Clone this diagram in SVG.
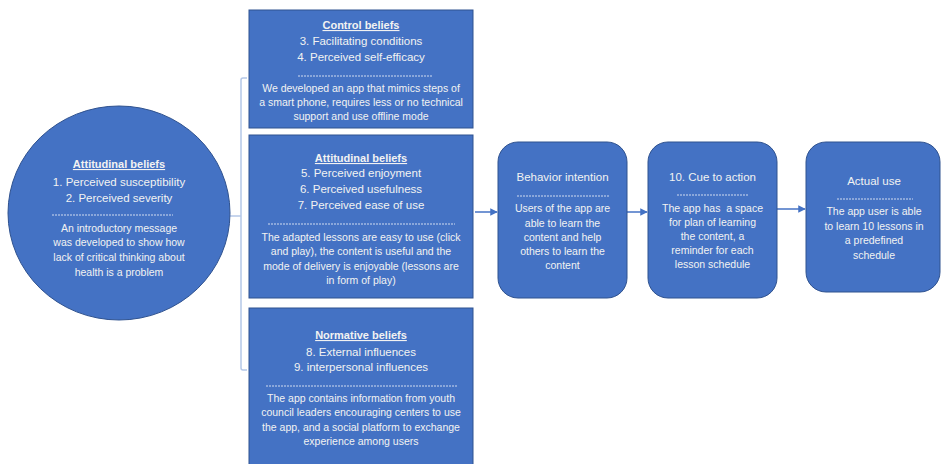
<svg xmlns="http://www.w3.org/2000/svg" width="941" height="464" viewBox="0 0 941 464">
<defs>
<style>
.shape{fill:#4472C4;stroke:#2F528F;stroke-width:1}
.t{font-family:"Liberation Sans",Arial,sans-serif;fill:#F2F2F2;text-anchor:middle}
.h{font-size:11px;font-weight:bold;text-decoration:underline}
.i{font-size:11.5px}
.b{font-size:10.5px}
.sep{stroke:#D0DBF0;stroke-width:1;stroke-dasharray:2 1}
.conn{stroke:#4472C4;stroke-width:1.5;fill:none}
.brk{stroke:#B4C7E7;stroke-width:1.5;fill:none}
</style>
<marker id="ah" viewBox="0 0 10 10" refX="9" refY="5" markerWidth="5" markerHeight="5" orient="auto" markerUnits="strokeWidth">
<path d="M0,0 L10,5 L0,10 Z" fill="#4472C4"/>
</marker>
</defs>
<rect width="941" height="464" fill="#FFFFFF"/>
<g id="connectors">
<path class="brk" d="M247,78 H243 Q241,78 241,80 V368 Q241,370 243,370 H247"/>
<path class="brk" d="M229,216 H241"/>
<path class="conn" d="M475,212 H497" marker-end="url(#ah)"/>
<path class="conn" d="M627,212 H647" marker-end="url(#ah)"/>
<path class="conn" d="M777,209 H805" marker-end="url(#ah)"/>
</g>
<g id="circle-attitudinal">
<ellipse class="shape" cx="119" cy="213" rx="111" ry="107"/>
<text class="t h" x="119" y="168">Attitudinal beliefs</text>
<text class="t i" x="119" y="186">1. Perceived susceptibility</text>
<text class="t i" x="119" y="202">2. Perceived severity</text>
<line class="sep" x1="52" y1="215" x2="173" y2="215"/>
<text class="t b" x="119" y="232">An introductory message</text>
<text class="t b" x="119" y="246">was developed to show how</text>
<text class="t b" x="119" y="261">lack of critical thinking about</text>
<text class="t b" x="119" y="276">health is a problem</text>
</g>
<g id="box-control">
<rect class="shape" x="249" y="10" width="224" height="118"/>
<text class="t h" x="361" y="29">Control beliefs</text>
<text class="t i" x="361" y="45">3. Facilitating conditions</text>
<text class="t i" x="361" y="61">4. Perceived self-efficacy</text>
<line class="sep" x1="298" y1="76" x2="433" y2="76"/>
<text class="t b" x="361" y="92">We developed an app that mimics steps of</text>
<text class="t b" x="361" y="106">a smart phone, requires less or no technical</text>
<text class="t b" x="361" y="120">support and use offline mode</text>
</g>
<g id="box-attitudinal">
<rect class="shape" x="249" y="135" width="224" height="163"/>
<text class="t h" x="361" y="162">Attitudinal beliefs</text>
<text class="t i" x="361" y="177">5. Perceived enjoyment</text>
<text class="t i" x="361" y="193">6. Perceived usefulness</text>
<text class="t i" x="361" y="209">7. Perceived ease of use</text>
<line class="sep" x1="268" y1="224" x2="455" y2="224"/>
<text class="t b" x="361" y="241">The adapted lessons are easy to use (click</text>
<text class="t b" x="361" y="255">and play), the content is useful and the</text>
<text class="t b" x="361" y="270">mode of delivery is enjoyable (lessons are</text>
<text class="t b" x="361" y="284">in form of play)</text>
</g>
<g id="box-normative">
<rect class="shape" x="249" y="308" width="224" height="160"/>
<text class="t h" x="361" y="339">Normative beliefs</text>
<text class="t i" x="361" y="356">8. External influences</text>
<text class="t i" x="361" y="371">9. interpersonal influences</text>
<line class="sep" x1="266" y1="386" x2="458" y2="386"/>
<text class="t b" x="361" y="402">The app contains information from youth</text>
<text class="t b" x="361" y="416">council leaders encouraging centers to use</text>
<text class="t b" x="361" y="431">the app, and a social platform to exchange</text>
<text class="t b" x="361" y="445">experience among users</text>
</g>
<g id="box-behavior">
<rect class="shape" x="498" y="142" width="129" height="156" rx="20"/>
<text class="t i" x="562.5" y="181">Behavior intention</text>
<line class="sep" x1="517" y1="196" x2="609" y2="196"/>
<text class="t b" x="562.5" y="212">Users of the app are</text>
<text class="t b" x="562.5" y="227">able to learn the</text>
<text class="t b" x="562.5" y="241">content and help</text>
<text class="t b" x="562.5" y="255">others to learn the</text>
<text class="t b" x="562.5" y="269">content</text>
</g>
<g id="box-cue">
<rect class="shape" x="648" y="142" width="129" height="156" rx="20"/>
<text class="t i" x="712.5" y="181">10. Cue to action</text>
<line class="sep" x1="677" y1="195" x2="748" y2="195"/>
<text class="t b" x="712.5" y="212">The app has&#160; a space</text>
<text class="t b" x="712.5" y="226">for plan of learning</text>
<text class="t b" x="712.5" y="240">the content, a</text>
<text class="t b" x="712.5" y="254">reminder for each</text>
<text class="t b" x="712.5" y="268">lesson schedule</text>
</g>
<g id="box-actual">
<rect class="shape" x="806" y="142" width="134" height="150" rx="20"/>
<text class="t i" x="874" y="185">Actual use</text>
<line class="sep" x1="837" y1="199" x2="913" y2="199"/>
<text class="t b" x="874" y="215">The app user is able</text>
<text class="t b" x="874" y="230">to learn 10 lessons in</text>
<text class="t b" x="874" y="244">a predefined</text>
<text class="t b" x="874" y="259">schedule</text>
</g>
</svg>
